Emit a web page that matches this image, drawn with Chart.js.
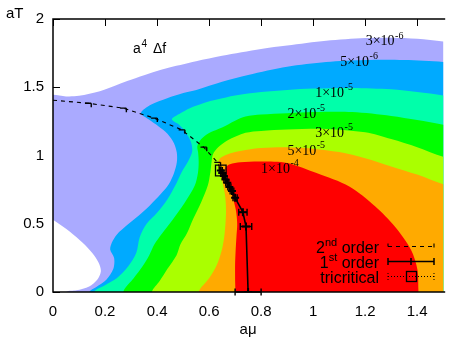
<!DOCTYPE html>
<html>
<head>
<meta charset="utf-8">
<script src="https://cdn.jsdelivr.net/npm/chart.js@4.4.1/dist/chart.umd.min.js"></script>
<style>
html,body{margin:0;padding:0;background:#ffffff;}
canvas{display:block;}
</style>
</head>
<body>
<canvas id="chart" width="452" height="339"></canvas>
<script>
// ---------------- data ----------------
const xTickStep = 0.2;
const yTickStep = 0.5;

// contour levels of a^4 Δf : mantissa × 10^exponent
const levelMantissa = [3, 5, 1, 2, 3, 5, 1];
const levelExponent = [-6, -6, -5, -5, -5, -5, -4];
const levelColors   = ['#aaaaff', '#00aaff', '#00ffaa', '#00ff00', '#aaff00', '#ffaa00', '#ff0000'];

// contour boundaries [aμ, aT] (lower branch from aT=0 upward, then upper branch to the right)
const edge3e6 = [[0,1.445],[0.05,1.433],[0.1,1.437],[0.18,1.47],[0.25,1.52],[0.3,1.555],[0.37,1.6],[0.43,1.635],[0.55,1.69],[0.65,1.73],[0.8,1.78],[0.9,1.805],[1.05,1.84],[1.2,1.86],[1.3,1.863],[1.4,1.855],[1.5,1.835]];
const holeEdge = [[0,0.53],[0.064,0.444],[0.114,0.36],[0.151,0.285],[0.176,0.212],[0.184,0.151],[0.17,0.09],[0.139,0.041],[0.09,0.012],[0.05,0]];
const edge5e6 = [[0.14,0],[0.165,0.035],[0.205,0.09],[0.232,0.17],[0.235,0.25],[0.22,0.31],[0.226,0.36],[0.245,0.42],[0.285,0.49],[0.33,0.56],[0.375,0.64],[0.415,0.72],[0.445,0.79],[0.465,0.87],[0.476,0.95],[0.476,1.02],[0.465,1.09],[0.44,1.16],[0.405,1.215],[0.37,1.262],[0.338,1.31],[0.376,1.371],[0.439,1.42],[0.501,1.457],[0.551,1.48],[0.65,1.54],[0.75,1.59],[0.9,1.65],[1.05,1.685],[1.2,1.70],[1.35,1.70],[1.5,1.685]];
const edge1e5 = [[0.158,0],[0.20,0.05],[0.245,0.1],[0.29,0.19],[0.32,0.285],[0.333,0.40],[0.36,0.50],[0.40,0.58],[0.44,0.68],[0.47,0.78],[0.495,0.88],[0.52,0.96],[0.535,1.03],[0.53,1.1],[0.51,1.17],[0.485,1.225],[0.457,1.266],[0.49,1.31],[0.526,1.347],[0.58,1.385],[0.63,1.41],[0.7,1.44],[0.8,1.465],[0.9,1.48],[1.0,1.49],[1.15,1.495],[1.3,1.485],[1.4,1.465],[1.5,1.44]];
const edge2e5 = [[0.27,0],[0.31,0.1],[0.345,0.19],[0.37,0.27],[0.39,0.35],[0.42,0.43],[0.46,0.53],[0.505,0.65],[0.545,0.78],[0.557,0.87],[0.56,0.95],[0.558,1.02],[0.555,1.07],[0.57,1.12],[0.60,1.165],[0.65,1.205],[0.70,1.255],[0.74,1.285],[0.8,1.30],[0.9,1.31],[1.0,1.318],[1.15,1.318],[1.3,1.29],[1.4,1.26],[1.5,1.225]];
const edge3e5 = [[0.38,0],[0.41,0.08],[0.44,0.17],[0.475,0.27],[0.49,0.35],[0.515,0.43],[0.54,0.54],[0.57,0.66],[0.595,0.78],[0.605,0.88],[0.61,0.96],[0.615,1.01],[0.635,1.06],[0.67,1.11],[0.74,1.166],[0.8,1.18],[0.9,1.19],[1.05,1.195],[1.2,1.17],[1.3,1.12],[1.4,1.06],[1.5,0.99]];
const edge5e5 = [[0.56,0],[0.60,0.1],[0.63,0.2],[0.648,0.3],[0.658,0.4],[0.663,0.5],[0.665,0.6],[0.662,0.7],[0.652,0.8],[0.64,0.88],[0.635,0.93],[0.64,0.975],[0.66,1.0],[0.7,1.025],[0.74,1.04],[0.8,1.055],[0.9,1.06],[1.0,1.05],[1.1,1.025],[1.2,0.98],[1.3,0.92],[1.4,0.86],[1.5,0.79]];
const edge1e4 = [[0.70,0],[0.70,0.1],[0.70,0.2],[0.702,0.3],[0.705,0.4],[0.708,0.5],[0.703,0.6],[0.69,0.7],[0.675,0.8],[0.665,0.87],[0.663,0.91],[0.68,0.935],[0.72,0.95],[0.8,0.956],[0.9,0.945],[1.013,0.871],[1.139,0.773],[1.239,0.627],[1.314,0.48],[1.376,0.31],[1.401,0.163],[1.405,0]];

// transition lines
const secondOrderMu  = [0, 0.135, 0.27, 0.389, 0.495, 0.579, 0.632, 0.645];
const secondOrderT   = [1.405, 1.383, 1.347, 1.274, 1.188, 1.061, 0.950, 0.890];
const secondOrderErr = [0, 0.012, 0.012, 0.012, 0.012, 0.012, 0.012, 0];
const firstOrderMu   = [0.645, 0.651, 0.657, 0.663, 0.670, 0.678, 0.688, 0.700, 0.730, 0.742, 0.750];
const firstOrderT    = [0.890, 0.871, 0.850, 0.825, 0.800, 0.770, 0.740, 0.690, 0.585, 0.480, 0.000];
const firstOrderErr  = [0.006, 0.006, 0.006, 0.006, 0.006, 0.006, 0.007, 0.008, 0.016, 0.022, 0.05];
const tricriticalMu  = [0.645];
const tricriticalT   = [0.890];

// contour label anchors [aμ, aT] (left end, baseline)
const labelAnchors = [[1.202,1.809],[1.104,1.656],[1.008,1.429],[0.901,1.275],[1.008,1.136],[0.901,1.004],[0.80,0.872]];

const legendNames = [['2','nd',' order'],['1','st',' order'],['tricritical','','']];

// ---------------- helpers ----------------
const SANS = '"Liberation Sans", Arial, Helvetica, sans-serif';
const SERIF = '"Liberation Serif", "Times New Roman", serif';
const toPts = e => e.map(([x, y]) => ({x, y}));

function bandPolygon(edge) {
  const pts = toPts(edge);
  const f = pts[0], l = pts[pts.length - 1];
  const head = [{x: 1.6, y: -0.25}, {x: f.x - 0.02, y: -0.25}];
  const tail = l.y > 0.01 ? [{x: 1.6, y: l.y - 0.04}] : [{x: l.x + 0.01, y: -0.25}];
  return head.concat(pts, tail);
}
function outerPolygon(edge) {
  const pts = toPts(edge);
  const l = pts[pts.length - 1];
  return [{x: 1.6, y: -0.25}, {x: -0.1, y: -0.25}, {x: -0.1, y: pts[0].y + 0.005}].concat(pts, [{x: 1.6, y: l.y - 0.03}]);
}
function holePolygon(edge) {
  return toPts(edge).concat([{x: 0, y: -0.1}, {x: -0.1, y: -0.1}, {x: -0.1, y: 0.57}]);
}
function areaDs(data, color, order) {
  return {data, backgroundColor: color, borderColor: 'rgba(0,0,0,0)', borderWidth: 0,
    pointRadius: 0, pointHoverRadius: 0, fill: 'shape', tension: 0.3, order};
}
const zip = (xs, ys) => xs.map((x, i) => ({x, y: ys[i]}));
const fmtTick = v => String(Math.round(v * 100) / 100);

const edges = [edge3e6, edge5e6, edge1e5, edge2e5, edge3e5, edge5e5, edge1e4];
const datasets = [];
edges.forEach((e, i) => {
  const poly = i === 0 ? outerPolygon(e) : bandPolygon(e);
  datasets.push(areaDs(poly, levelColors[i], 20 - 2 * i));
  if (i === 0) datasets.push(areaDs(holePolygon(holeEdge), '#ffffff', 19));
});
datasets.push({data: zip(secondOrderMu, secondOrderT), errX: secondOrderErr, capStyle: 'hook',
  borderColor: '#000', borderWidth: 1.1, borderDash: [4, 4], pointRadius: 0, fill: false, tension: 0, order: 3});
datasets.push({data: zip(firstOrderMu, firstOrderT), errX: firstOrderErr, capStyle: 'both',
  borderColor: '#000', borderWidth: 1.6, pointStyle: 'cross', pointRadius: 4, pointBorderWidth: 2,
  pointBorderColor: '#000', fill: false, tension: 0, order: 2});
datasets.push({data: zip(tricriticalMu, tricriticalT), showLine: false, pointStyle: 'rect', pointRadius: 7.5,
  pointBorderWidth: 1.3, pointBorderColor: '#000', pointBackgroundColor: 'rgba(0,0,0,0)', fill: false, order: 1});

// ---------------- plugins ----------------
const innerTicks = {
  id: 'innerTicks',
  beforeDatasetsDraw(chart) {
    const {ctx, chartArea: a, scales: {x, y}} = chart;
    ctx.save(); ctx.strokeStyle = '#000'; ctx.lineWidth = 1; ctx.beginPath();
    x.ticks.forEach(t => {
      const px = Math.round(x.getPixelForValue(t.value)) + 0.5;
      ctx.moveTo(px, a.top); ctx.lineTo(px, a.top + 7);
      ctx.moveTo(px, a.bottom); ctx.lineTo(px, a.bottom - 7);
    });
    y.ticks.forEach(t => {
      const py = Math.round(y.getPixelForValue(t.value)) + 0.5;
      ctx.moveTo(a.left, py); ctx.lineTo(a.left + 7, py);
    });
    ctx.stroke(); ctx.restore();
  }
};

const frameAndBars = {
  id: 'frameAndBars',
  afterDatasetsDraw(chart) {
    const {ctx, chartArea: a, scales: {x, y}} = chart;
    ctx.save();
    ctx.strokeStyle = '#000'; ctx.lineWidth = 1.5;
    ctx.beginPath();
    ctx.moveTo(a.right + 2, a.top); ctx.lineTo(a.left, a.top); ctx.lineTo(a.left, a.bottom); ctx.lineTo(a.right + 2, a.bottom);
    ctx.stroke();
    chart.data.datasets.forEach(ds => {
      if (!ds.errX) return;
      ctx.lineWidth = 1.4; ctx.setLineDash([]);
      ds.data.forEach((p, i) => {
        const e = ds.errX[i]; if (!e) return;
        const xl = x.getPixelForValue(p.x - e), xr = x.getPixelForValue(p.x + e), py = y.getPixelForValue(p.y);
        ctx.beginPath();
        ctx.moveTo(xl, py); ctx.lineTo(xr, py);
        if (ds.capStyle === 'hook') { ctx.moveTo(xr, py); ctx.lineTo(xr, py + 4); }
        else { ctx.moveTo(xl, py - 3.5); ctx.lineTo(xl, py + 3.5); ctx.moveTo(xr, py - 3.5); ctx.lineTo(xr, py + 3.5); }
        ctx.stroke();
      });
    });
    ctx.restore();
  }
};

const annotations = {
  id: 'annotations',
  afterDraw(chart) {
    const {ctx, scales: {x, y}} = chart;
    ctx.save();
    ctx.fillStyle = '#000'; ctx.textBaseline = 'alphabetic'; ctx.textAlign = 'left';
    // contour labels
    labelAnchors.forEach(([mu, t], i) => {
      const px = x.getPixelForValue(mu), py = y.getPixelForValue(t);
      ctx.font = '14px ' + SERIF;
      const main = levelMantissa[i] + '\u00d710';
      ctx.fillText(main, px, py);
      const w = ctx.measureText(main).width;
      ctx.font = '10px ' + SERIF;
      ctx.fillText(String(levelExponent[i]), px + w + 0.5, py - 6.5);
    });
    // plot title a^4 Δf
    ctx.font = '14px ' + SANS; ctx.fillText('a', 133, 53);
    ctx.font = '10px ' + SANS; ctx.fillText('4', 141.5, 47);
    ctx.font = '14px ' + SANS; ctx.fillText('\u0394f', 153, 53);
    // y axis title
    ctx.font = '15px ' + SANS; ctx.fillText('aT', 6, 18);
    // legend
    const rightX = 379, x0 = 388, x1 = 434;
    const baselines = [252.7, 268, 283.3];
    legendNames.forEach((parts, i) => {
      const by = baselines[i];
      ctx.font = '16px ' + SANS; const w1 = ctx.measureText(parts[0]).width;
      const w3 = ctx.measureText(parts[2]).width;
      ctx.font = '11px ' + SANS; const w2 = ctx.measureText(parts[1]).width;
      let sx = rightX - (w1 + w2 + w3);
      ctx.font = '16px ' + SANS; ctx.fillText(parts[0], sx, by); sx += w1;
      ctx.font = '11px ' + SANS; ctx.fillText(parts[1], sx, by - 7); sx += w2;
      ctx.font = '16px ' + SANS; ctx.fillText(parts[2], sx, by);
      const sy = Math.round(by - 7) + 0.5;
      ctx.strokeStyle = '#000';
      if (i === 0) {
        ctx.lineWidth = 1.1; ctx.setLineDash([4, 4]);
        ctx.beginPath(); ctx.moveTo(x0, sy); ctx.lineTo(x1, sy); ctx.stroke();
        ctx.setLineDash([]);
        ctx.beginPath(); ctx.moveTo(x0, sy - 3); ctx.lineTo(x0, sy); ctx.moveTo(x1, sy - 3); ctx.lineTo(x1, sy + 1); ctx.stroke();
      } else if (i === 1) {
        ctx.lineWidth = 1.5; ctx.setLineDash([]);
        const xm = (x0 + x1) / 2;
        ctx.beginPath(); ctx.moveTo(x0, sy); ctx.lineTo(x1, sy);
        ctx.moveTo(x0, sy - 3.5); ctx.lineTo(x0, sy + 3.5); ctx.moveTo(x1, sy - 3.5); ctx.lineTo(x1, sy + 3.5);
        ctx.moveTo(xm, sy - 3.5); ctx.lineTo(xm, sy + 3.5);
        ctx.stroke();
      } else {
        ctx.lineWidth = 1; ctx.setLineDash([1, 2]);
        ctx.beginPath(); ctx.moveTo(x0, sy); ctx.lineTo(x1, sy);
        ctx.moveTo(x0, sy - 3.5); ctx.lineTo(x0, sy + 3.5); ctx.moveTo(x1, sy - 3.5); ctx.lineTo(x1, sy + 3.5);
        ctx.stroke();
        ctx.setLineDash([]); ctx.lineWidth = 1.3;
        const xm = Math.round((x0 + x1) / 2) + 0.5;
        ctx.strokeRect(xm - 5, sy - 5, 10, 10);
      }
    });
    ctx.restore();
  }
};

// ---------------- chart ----------------
new Chart(document.getElementById('chart'), {
  type: 'line',
  data: {datasets},
  options: {
    responsive: false,
    devicePixelRatio: 1,
    animation: false,
    events: [],
    layout: {padding: {top: 19, right: 0, bottom: 0, left: 0}},
    elements: {line: {capBezierPoints: false}},
    plugins: {legend: {display: false}, tooltip: {enabled: false}, title: {display: false}},
    scales: {
      x: {
        type: 'linear', min: 0, max: 1.5,
        grid: {display: false, drawTicks: false}, border: {display: false},
        ticks: {stepSize: xTickStep, includeBounds: false, color: '#000', padding: 11, maxRotation: 0,
          font: {family: SANS, size: 15}, callback: fmtTick},
        title: {display: true, text: 'a\u03bc', color: '#000', font: {family: SANS, size: 15}, padding: {top: 0, bottom: 0}},
        afterFit(s) { s.height = 47; }
      },
      y: {
        type: 'linear', min: 0, max: 2,
        grid: {display: false, drawTicks: false}, border: {display: false},
        ticks: {stepSize: yTickStep, includeBounds: false, color: '#000', padding: 9,
          font: {family: SANS, size: 15}, callback: fmtTick},
        afterFit(s) { s.width = 53; }
      }
    }
  },
  plugins: [innerTicks, frameAndBars, annotations]
});
</script>
</body>
</html>
